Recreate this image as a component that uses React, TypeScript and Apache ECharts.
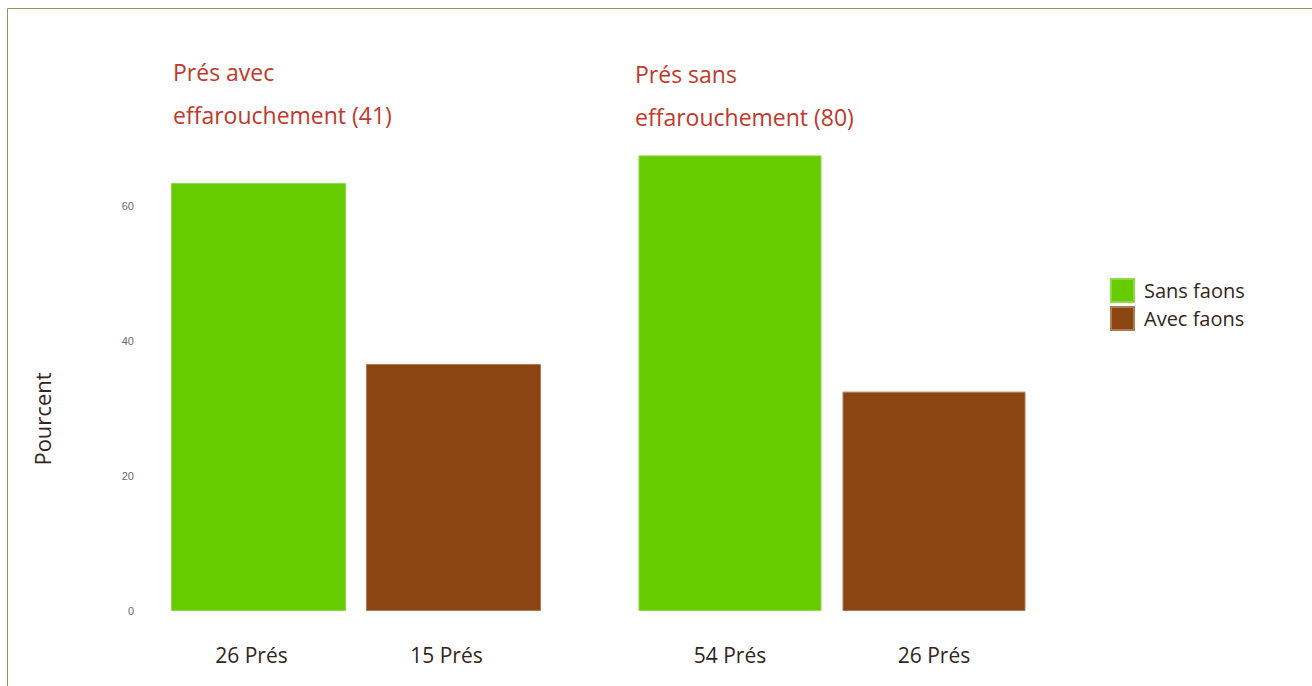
import React, { useEffect, useRef } from "react";
import * as echarts from "echarts";

const groupTitles = ["Prés avec\neffarouchement (41)", "Prés sans\neffarouchement (80)"];
const catsAvec = ["26 Prés", "15 Prés"];
const catsSans = ["54 Prés", "26 Prés"];
const seriesNames = ["Sans faons", "Avec faons"];
const sansFaonsPct = [63.4, 67.5];
const avecFaonsPct = [36.6, 32.5];
const yTicks = [0, 20, 40, 60];
const yAxisTitle = "Pourcent";

const GREEN = "#66cc00";
const BROWN = "#8b4513";
const FONT = "'Open Sans', 'Noto Sans', sans-serif";

export default function App() {
  const ref = useRef<HTMLDivElement>(null);
  useEffect(() => {
    if (!ref.current) return;
    const chart = echarts.init(ref.current, undefined, { renderer: "svg" });
    const gridTop = 138.5;
    const gridBottom = 75;
    const xAxisCommon = {
      type: "category",
      axisLine: { show: false },
      axisTick: { show: false },
    };
    const xLabel = { margin: 33, fontSize: 21, color: "#33251c", fontFamily: FONT };
    const yAxisCommon = {
      type: "value",
      min: 0,
      max: 70,
      interval: 20,
      splitLine: { show: false },
      axisLine: { show: false },
      axisTick: { show: false },
    };
    const titleStyle = { color: "#c0392b", fontSize: 23, fontWeight: "normal", fontFamily: FONT, lineHeight: 43 };
    chart.setOption({
      animation: false,
      backgroundColor: "#ffffff",
      graphic: [
        {
          type: "rect",
          shape: { x: 7.5, y: 8.5, width: 1400, height: 800 },
          style: { fill: "none", stroke: "#a08a55", lineWidth: 1 },
          silent: true,
        },
        {
          type: "text",
          x: 42,
          y: 419,
          rotation: Math.PI / 2,
          style: {
            text: yAxisTitle,
            fontSize: 22,
            fontFamily: FONT,
            fill: "#33251c",
            align: "center",
            verticalAlign: "middle",
          },
          silent: true,
        },
      ],
      title: [
        { text: groupTitles[0], left: 168, top: 45.5, textStyle: titleStyle },
        { text: groupTitles[1], left: 630, top: 47.5, textStyle: titleStyle },
      ],
      legend: {
        data: seriesNames,
        orient: "vertical",
        left: 1105,
        top: 273,
        itemWidth: 23,
        itemHeight: 23,
        itemGap: 3,
        icon: "rect",
        textStyle: { fontSize: 20, color: "#33251c", fontFamily: FONT, padding: [0, 0, 0, 5] },
      },
      grid: [
        { left: 161, width: 390, top: gridTop, bottom: gridBottom },
        { left: 628, width: 408, top: gridTop, bottom: gridBottom },
      ],
      xAxis: [
        { ...xAxisCommon, gridIndex: 0, data: catsAvec, axisLabel: { ...xLabel, padding: [0, 14, 0, 0] } },
        { ...xAxisCommon, gridIndex: 1, data: catsSans, axisLabel: { ...xLabel } },
      ],
      yAxis: [
        {
          ...yAxisCommon,
          gridIndex: 0,
          axisLabel: {
            margin: 27,
            fontSize: 11,
            color: "#6a6a6a",
            fontFamily: "Arial, 'Liberation Sans', sans-serif",
            formatter: (v: number) => (yTicks.includes(v) ? String(v) : ""),
          },
        },
        { ...yAxisCommon, gridIndex: 1, axisLabel: { show: false } },
      ],
      series: [
        {
          name: seriesNames[0],
          type: "bar",
          xAxisIndex: 0,
          yAxisIndex: 0,
          barWidth: 175,
          barGap: "-100%",
          itemStyle: { color: GREEN, borderColor: "#8ed84a", borderWidth: 1 },
          data: [sansFaonsPct[0], null],
        },
        {
          name: seriesNames[1],
          type: "bar",
          xAxisIndex: 0,
          yAxisIndex: 0,
          barWidth: 175,
          barGap: "-100%",
          itemStyle: { color: BROWN, borderColor: "#b07a55", borderWidth: 1 },
          data: [null, avecFaonsPct[0]],
        },
        {
          name: seriesNames[0],
          type: "bar",
          xAxisIndex: 1,
          yAxisIndex: 1,
          barWidth: 183,
          barGap: "-100%",
          itemStyle: { color: GREEN, borderColor: "#8ed84a", borderWidth: 1 },
          data: [sansFaonsPct[1], null],
        },
        {
          name: seriesNames[1],
          type: "bar",
          xAxisIndex: 1,
          yAxisIndex: 1,
          barWidth: 183,
          barGap: "-100%",
          itemStyle: { color: BROWN, borderColor: "#b07a55", borderWidth: 1 },
          data: [null, avecFaonsPct[1]],
        },
      ],
    });
    return () => chart.dispose();
  }, []);
  return (
    <div
      ref={ref}
      style={{ position: "fixed", left: 0, top: 0, width: 1312, height: 686 }}
    />
  );
}
